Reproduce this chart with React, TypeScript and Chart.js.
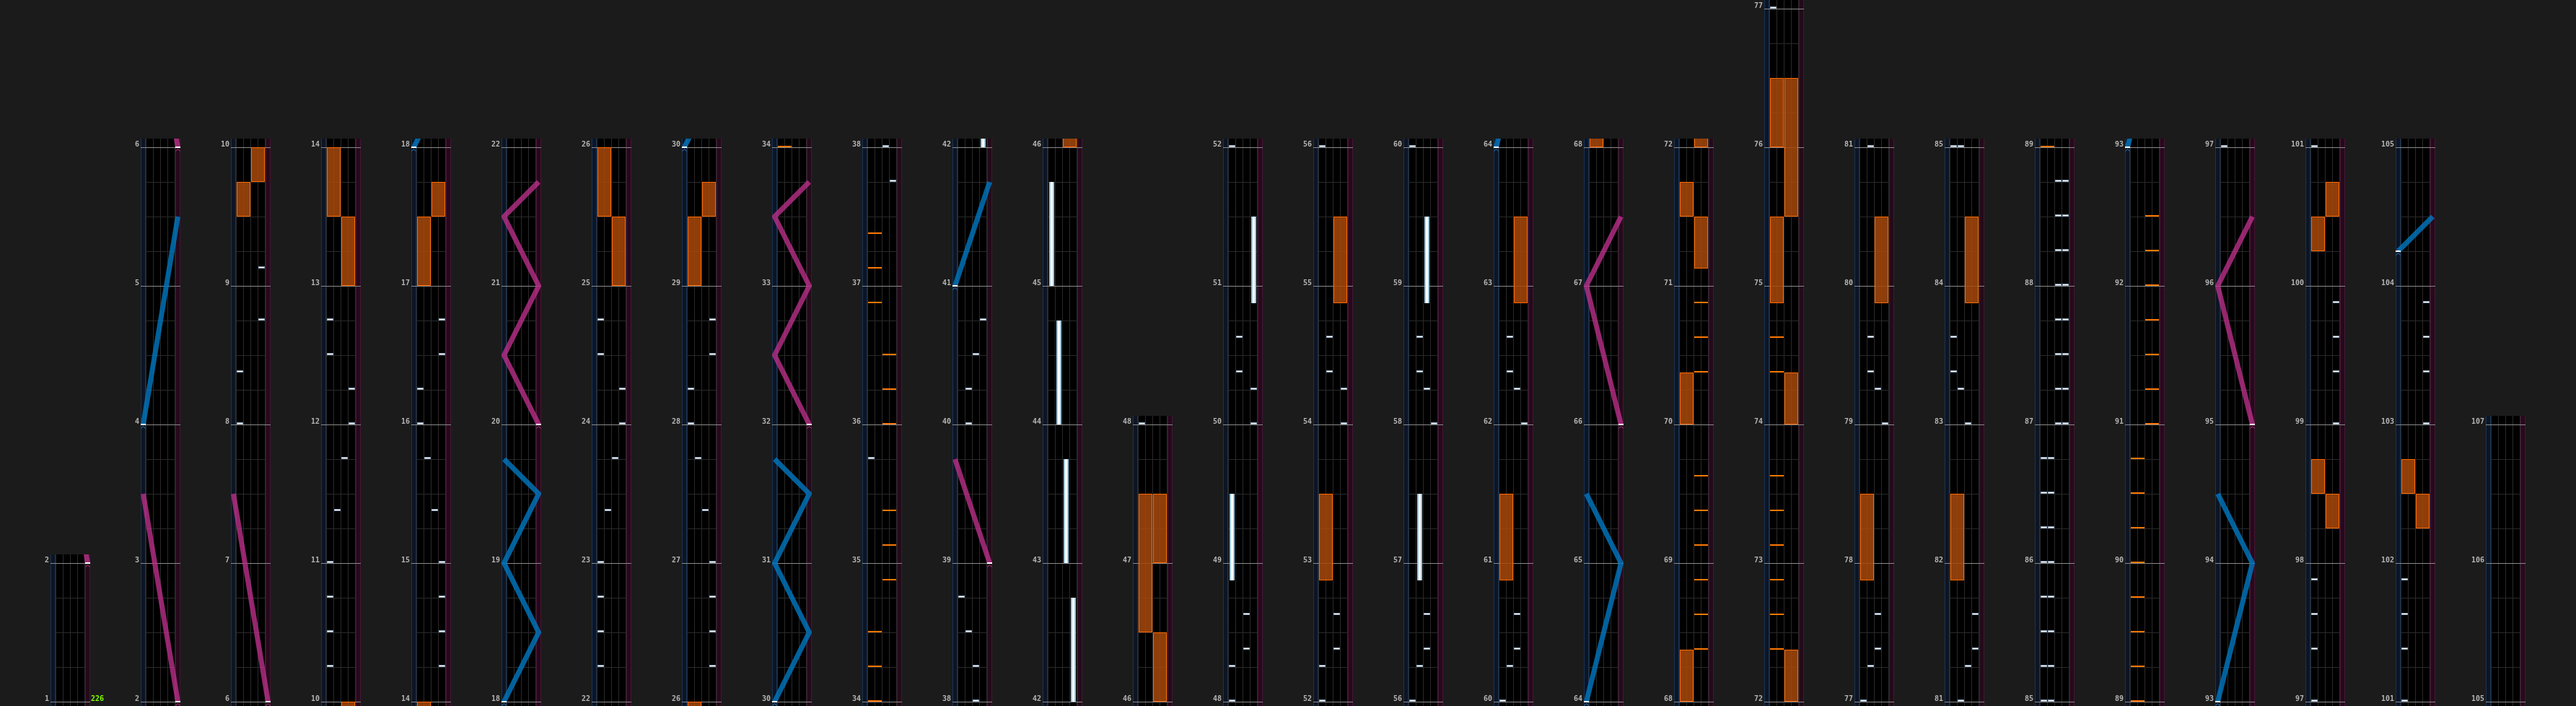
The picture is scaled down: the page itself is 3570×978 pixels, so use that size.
import React, { useEffect, useRef } from "react";
import { Chart, registerables } from "chart.js";

Chart.register(...registerables);

// ================= DATA =================
// Each column shows measures columnBreaks[k] .. columnBreaks[k + 1]
const columnBreaks = [1, 2, 6, 10, 14, 18, 22, 26, 30, 34, 38, 42, 46, 48, 52, 56, 60, 64, 68, 72, 77, 81, 85, 89, 93, 97, 101, 105, 107];

// BPM markers: [measure, label]
const bpmMarks: [number, string][] = [[1, "226"]];

// BT chips: [time (measure + fraction), lane 0..3]
const btChips: [number, number][] = [
  [8, 0], [8.375, 0], [8.75, 3], [9.125, 3],
  [10.25, 0], [10.5, 0], [10.75, 0], [11, 0], [11.375, 1], [11.75, 2], [12, 3], [12.25, 3], [12.5, 0], [12.75, 0],
  [14.25, 3], [14.5, 3], [14.75, 3], [15, 3], [15.375, 2], [15.75, 1], [16, 0], [16.25, 0], [16.5, 3], [16.75, 3],
  [22.25, 0], [22.5, 0], [22.75, 0], [23, 0], [23.375, 1], [23.75, 2], [24, 3], [24.25, 3], [24.5, 0], [24.75, 0],
  [26.25, 3], [26.5, 3], [26.75, 3], [27, 3], [27.375, 2], [27.75, 1], [28, 0], [28.25, 0], [28.5, 3], [28.75, 3],
  [35.75, 0], [37.75, 3], [38, 2], [38.25, 2], [38.5, 1], [38.75, 0],
  [40, 1], [40.25, 1], [40.5, 2], [40.75, 3],
  [48, 0], [48.25, 0], [48.375, 2], [48.625, 2], [50, 3], [50.25, 3], [50.375, 1], [50.625, 1],
  [52, 0], [52.25, 0], [52.375, 2], [52.625, 2], [54, 3], [54.25, 3], [54.375, 1], [54.625, 1],
  [56, 0], [56.25, 1], [56.375, 2], [56.625, 2], [58, 3], [58.25, 2], [58.375, 1], [58.625, 1],
  [60, 0], [60.25, 1], [60.375, 2], [60.625, 2], [62, 3], [62.25, 2], [62.375, 1], [62.625, 1],
  [77, 0], [77.25, 1], [77.375, 2], [77.625, 2], [79, 3], [79.25, 2], [79.375, 1], [79.625, 1],
  [81, 1], [81.25, 2], [81.375, 3], [81.625, 3], [83, 2], [83.25, 1], [83.375, 0], [83.625, 0],
  [85, 0], [85, 1], [85.25, 0], [85.25, 1], [85.5, 0], [85.5, 1], [85.75, 0], [85.75, 1],
  [86, 0], [86, 1], [86.25, 0], [86.25, 1], [86.5, 0], [86.5, 1], [86.75, 0], [86.75, 1],
  [87, 2], [87, 3], [87.25, 2], [87.25, 3], [87.5, 2], [87.5, 3], [87.75, 2], [87.75, 3],
  [88, 2], [88, 3], [88.25, 2], [88.25, 3], [88.5, 2], [88.5, 3], [88.75, 2], [88.75, 3],
  [97, 0], [97.375, 0], [97.625, 0], [97.875, 0], [99, 3], [99.375, 3], [99.625, 3], [99.875, 3],
  [101, 0], [101.375, 0], [101.625, 0], [101.875, 0], [103, 3], [103.375, 3], [103.625, 3], [103.875, 3],
];

// FX chips: [time, side 0 = left pair, 1 = right pair]
const fxChips: [number, number][] = [
  [34, 0], [34.25, 0], [34.5, 0], [34.875, 1], [35.125, 1], [35.375, 1],
  [36, 1], [36.25, 1], [36.5, 1], [36.875, 0], [37.125, 0], [37.375, 0],
  [68.375, 1], [68.625, 1], [68.875, 1], [69.125, 1], [69.375, 1], [69.625, 1],
  [70.375, 1], [70.625, 1], [70.875, 1],
  [72.375, 0], [72.625, 0], [72.875, 0], [73.125, 0], [73.375, 0], [73.625, 0],
  [74.375, 0], [74.625, 0],
  [89, 0], [89.25, 0], [89.5, 0], [89.75, 0], [90, 0], [90.25, 0], [90.5, 0], [90.75, 0],
  [91, 1], [91.25, 1], [91.5, 1], [91.75, 1], [92, 1], [92.25, 1], [92.5, 1],
];

// BT holds: [start, end, lane]
const btHolds: [number, number, number][] = [
  [42, 42.75, 3], [43, 43.75, 2], [44, 44.75, 1], [45, 45.75, 0],
  [48.875, 49.5, 0], [50.875, 51.5, 3], [56.875, 57.5, 1], [58.875, 59.5, 2],
];

// FX holds: [start, end, side]
const fxHolds: [number, number, number][] = [
  [9.5, 9.75, 0], [9.75, 10, 1], [13, 13.5, 1], [13.5, 14, 0],
  [17, 17.5, 0], [17.5, 17.75, 1], [25, 25.5, 1], [25.5, 26, 0],
  [29, 29.5, 0], [29.5, 29.75, 1],
  [46, 46.5, 1], [46.5, 47.5, 0], [47, 47.5, 1],
  [52.875, 53.5, 0], [54.875, 55.5, 1], [60.875, 61.5, 0], [62.875, 63.5, 1],
  [68, 68.375, 0], [70, 70.375, 0], [71.125, 71.5, 1], [71.5, 71.75, 0],
  [72, 72.375, 1], [74, 74.375, 1], [74.875, 75.5, 0], [75.5, 76.5, 1], [76, 76.5, 0],
  [77.875, 78.5, 0], [79.875, 80.5, 1], [81.875, 82.5, 0], [83.875, 84.5, 1],
  [98.25, 98.5, 1], [98.5, 98.75, 0], [100.25, 100.5, 0], [100.5, 100.75, 1],
  [102.25, 102.5, 1], [102.5, 102.75, 0],
];

// Lasers: each is a list of [time, position 0 = far left .. 1 = far right]
const leftLasers: [number, number][][] = [
  [[4, 0], [5.5, 1]],
  [[18, 0], [18.5, 1], [19, 0], [19.5, 1], [19.75, 0]],
  [[30, 0], [30.5, 1], [31, 0], [31.5, 1], [31.75, 0]],
  [[41, 0], [41.75, 1]],
  [[64, 0], [65, 1], [65.5, 0]],
  [[93, 0], [94, 1], [94.5, 0]],
  [[104.25, 0], [104.5, 1]],
];
const rightLasers: [number, number][][] = [
  [[2, 1], [3.5, 0]],
  [[6, 1], [7.5, 0]],
  [[20, 1], [20.5, 0], [21, 1], [21.5, 0], [21.75, 1]],
  [[32, 1], [32.5, 0], [33, 1], [33.5, 0], [33.75, 1]],
  [[39, 1], [39.75, 0]],
  [[66, 1], [67, 0], [67.5, 1]],
  [[95, 1], [96, 0], [96.5, 1]],
];

// ================= STYLE / GEOMETRY =================
const CANVAS_H = 978;
const CANVAS_W = 180;
const COL_PITCH = 125;
const AXIS_W = 70;
const COL_W = 55;
const PX_PER_MEASURE = 192;
const BASE_LINE = 972;
const TOP_OVER = 12;
const BOTTOM_OVER = 6;
const HALF = 0.5 / PX_PER_MEASURE;

const COLORS = {
  page: "#1b1b1b",
  lane: "#000000",
  laneLine: "#2a2a2a",
  beatLine: "#2a2a2a",
  measureLine: "#8a8a8a",
  blueLane: "#0c1526",
  blueEdge: "#1b3250",
  pinkLane: "#250a1b",
  pinkEdge: "#441633",
  label: "#b4b4b4",
  bpm: "#7fff00",
  blueLaser: "rgba(0,118,190,0.82)",
  pinkLaser: "rgba(186,48,138,0.8)",
  fxFill: "rgba(168,72,10,0.86)",
  fxEdge: "#ff6a00",
  btHoldEdge: "#9cc6df",
  btHoldCore: "#ffffff",
};
const FONT = { family: "'DejaVu Sans Mono', monospace", size: 10, weight: "bold" as const };

// x is measured in units of 10px across a 55px wide column
const laneX = (lane: number) => 1.25 + lane;
const fxX = (side: number) => 1.75 + side * 2;
const laserX = (pos: number) => 0.35 + pos * 4.8;

type P = { x: number | null; y: number | null };
const GAP: P = { x: null, y: null };

function makeCanvas(w: number, h: number, draw: (g: CanvasRenderingContext2D) => void) {
  const c = document.createElement("canvas");
  c.width = w;
  c.height = h;
  draw(c.getContext("2d")!);
  return c;
}

let spriteCache: any = null;
function sprites() {
  if (spriteCache) return spriteCache;
  const bt = makeCanvas(9, 6, (g) => {
    g.fillStyle = "#8ea3b9";
    g.fillRect(0, 0, 9, 3);
    g.fillStyle = "#ffffff";
    g.fillRect(1, 1, 7, 1);
  });
  const fx = makeCanvas(19, 6, (g) => {
    g.fillStyle = "#ff7800";
    g.fillRect(0, 1, 19, 2);
  });
  const start = (col: string) =>
    makeCanvas(7, 14, (g) => {
      g.fillStyle = "#ffffff";
      g.fillRect(0, 6, 7, 2);
      g.strokeStyle = col;
      g.lineWidth = 1;
      g.beginPath();
      g.moveTo(0.5, 12.5);
      g.lineTo(3.5, 9.5);
      g.lineTo(6.5, 12.5);
      g.stroke();
    });
  spriteCache = { bt, fx, blueStart: start("#2a80c2"), pinkStart: start("#b23c8e") };
  return spriteCache;
}

function lineSet(data: P[], color: string, width: number, order: number) {
  return {
    data,
    showLine: true,
    borderColor: color,
    backgroundColor: color,
    borderWidth: width,
    pointRadius: 0,
    pointHoverRadius: 0,
    spanGaps: false,
    borderCapStyle: "butt",
    borderJoinStyle: "miter",
    clip: 0,
    order,
  };
}
function pointSet(data: P[], img: HTMLCanvasElement, order: number) {
  return {
    data,
    showLine: false,
    pointStyle: img,
    pointRadius: 5,
    pointHoverRadius: 5,
    borderWidth: 0,
    clip: 0,
    order,
  };
}

function buildDatasets() {
  const s = sprites();
  const fxFill: P[] = [];
  const fxOutline: P[] = [];
  fxHolds.forEach(([a, b, side]) => {
    fxFill.push({ x: fxX(side), y: a }, { x: fxX(side), y: b }, GAP);
    const l = 0.85 + side * 2;
    const r = 2.65 + side * 2;
    fxOutline.push(
      { x: l, y: a + HALF }, { x: r, y: a + HALF }, { x: r, y: b - HALF },
      { x: l, y: b - HALF }, { x: l, y: a + HALF }, GAP
    );
  });
  const btHold: P[] = [];
  btHolds.forEach(([a, b, lane]) => {
    btHold.push({ x: laneX(lane), y: a }, { x: laneX(lane), y: b }, GAP);
  });
  const laserPts = (list: [number, number][][]) => {
    const out: P[] = [];
    list.forEach((l) => {
      l.forEach(([t, p]) => out.push({ x: laserX(p), y: t }));
      out.push(GAP);
    });
    return out;
  };
  const starts = (list: [number, number][][]) => list.map((l) => ({ x: laserX(l[0][1]), y: l[0][0] }));

  return [
    pointSet(starts(rightLasers), s.pinkStart, 0),
    pointSet(starts(leftLasers), s.blueStart, 1),
    lineSet(laserPts(rightLasers), COLORS.pinkLaser, 7, 2),
    lineSet(laserPts(leftLasers), COLORS.blueLaser, 7, 3),
    pointSet(btChips.map(([t, l]) => ({ x: laneX(l), y: t })), s.bt, 4),
    pointSet(fxChips.map(([t, sd]) => ({ x: fxX(sd), y: t })), s.fx, 5),
    lineSet(btHold, COLORS.btHoldCore, 3, 6),
    lineSet(btHold, COLORS.btHoldEdge, 7, 7),
    lineSet(fxOutline, COLORS.fxEdge, 1, 8),
    lineSet(fxFill, COLORS.fxFill, 19, 9),
  ];
}

function makeConfig(start: number, end: number): any {
  const n = end - start;
  const topPad = BASE_LINE - n * PX_PER_MEASURE - TOP_OVER;
  const measureTicks: number[] = [];
  for (let m = start; m <= end; m++) measureTicks.push(m);

  const lanePlugin = {
    id: "laneBackground",
    beforeDraw(chart: any) {
      const { ctx, chartArea: a, scales } = chart;
      const x = scales.x;
      const y = scales.y;
      const X = (v: number) => Math.round(x.getPixelForValue(v));
      const Y = (v: number) => Math.round(y.getPixelForValue(v));
      const h = a.bottom - a.top;
      ctx.save();
      ctx.fillStyle = COLORS.lane;
      ctx.fillRect(a.left, a.top, a.right - a.left, h);
      // laser lanes
      const bl = X(0);
      ctx.fillStyle = COLORS.blueLane;
      ctx.fillRect(bl, a.top, 7, h);
      ctx.fillStyle = COLORS.blueEdge;
      ctx.fillRect(bl, a.top, 1, h);
      ctx.fillRect(bl + 6, a.top, 1, h);
      const pl = X(4.8);
      ctx.fillStyle = COLORS.pinkLane;
      ctx.fillRect(pl, a.top, 7, h);
      ctx.fillStyle = COLORS.pinkEdge;
      ctx.fillRect(pl, a.top, 1, h);
      ctx.fillRect(pl + 6, a.top, 1, h);
      // lane dividers
      ctx.fillStyle = COLORS.laneLine;
      for (let i = 0; i <= 4; i++) ctx.fillRect(Math.floor(x.getPixelForValue(0.75 + i)), a.top, 1, h);
      // beat lines
      ctx.fillStyle = COLORS.beatLine;
      const bx0 = X(0.8);
      const bx1 = X(4.75);
      for (let m = start; m < end; m++) {
        for (let q = 1; q < 4; q++) ctx.fillRect(bx0, Y(m + q / 4), bx1 - bx0, 1);
      }
      // measure lines
      ctx.fillStyle = COLORS.measureLine;
      measureTicks.forEach((m) => ctx.fillRect(a.left, Y(m), a.right - a.left, 1));
      ctx.restore();
    },
    afterDraw(chart: any) {
      const { ctx, chartArea: a, scales } = chart;
      ctx.save();
      ctx.fillStyle = COLORS.bpm;
      ctx.font = `bold 10px ${FONT.family}`;
      ctx.textAlign = "left";
      ctx.textBaseline = "middle";
      bpmMarks.forEach(([m, label]) => {
        if (m >= start && m < end) {
          ctx.fillText(label, a.right + 1, Math.round(scales.y.getPixelForValue(m)) - 4);
        }
      });
      ctx.restore();
    },
  };

  return {
    type: "scatter",
    data: { datasets: buildDatasets() },
    options: {
      animation: false,
      responsive: false,
      maintainAspectRatio: false,
      devicePixelRatio: 1,
      events: [],
      layout: { autoPadding: false, padding: { top: topPad, right: CANVAS_W - AXIS_W - COL_W, left: 0, bottom: 0 } },
      plugins: { legend: { display: false }, tooltip: { enabled: false } },
      scales: {
        x: { type: "linear", display: false, min: 0, max: 5.5 },
        y: {
          type: "linear",
          bounds: "data",
          min: start - BOTTOM_OVER / PX_PER_MEASURE,
          max: end + TOP_OVER / PX_PER_MEASURE,
          grid: { display: false, drawTicks: false },
          border: { display: false },
          afterBuildTicks: (sc: any) => {
            sc.ticks = measureTicks.map((v) => ({ value: v }));
          },
          afterFit: (sc: any) => {
            sc.width = AXIS_W;
            sc.paddingTop = 0;
            sc.paddingBottom = 0;
          },
          ticks: {
            color: COLORS.label,
            font: FONT,
            padding: 2,
            labelOffset: -4,
            autoSkip: false,
            maxRotation: 0,
            callback: (v: any) => String(v),
          },
        },
      },
    },
    plugins: [lanePlugin],
  };
}

function Column({ index }: { index: number }) {
  const ref = useRef<HTMLCanvasElement>(null);
  useEffect(() => {
    const chart = new Chart(ref.current!, makeConfig(columnBreaks[index], columnBreaks[index + 1]));
    return () => chart.destroy();
  }, [index]);
  return (
    <canvas
      ref={ref}
      width={CANVAS_W}
      height={CANVAS_H}
      style={{ position: "absolute", left: index * COL_PITCH, top: 0, width: CANVAS_W, height: CANVAS_H }}
    />
  );
}

export default function App() {
  const cols = columnBreaks.slice(0, -1);
  return (
    <div
      style={{
        position: "fixed",
        left: 0,
        top: 0,
        width: 3570,
        height: CANVAS_H,
        background: COLORS.page,
        overflow: "hidden",
      }}
    >
      {cols.map((_, k) => (
        <Column key={k} index={k} />
      ))}
    </div>
  );
}
